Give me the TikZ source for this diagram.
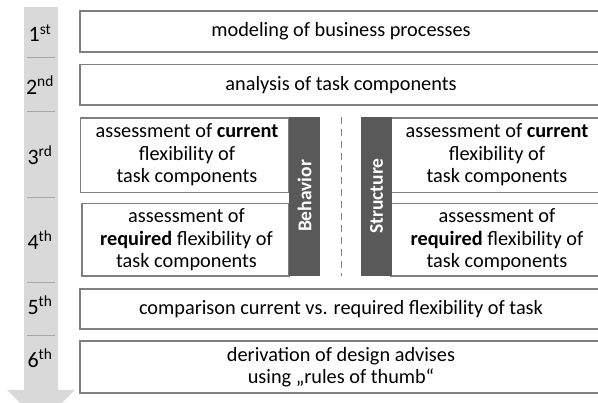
\documentclass[tikz,border=0pt]{standalone}
\usepackage{fontspec}
\setmainfont{Carlito}
\definecolor{boxline}{HTML}{7F7F7F}
\definecolor{barfill}{HTML}{595959}
\definecolor{arrowfill}{HTML}{D9D9D9}
\definecolor{sepline}{HTML}{A6A6A6}
\begin{document}
\begin{tikzpicture}[x=1pt,y=-1pt,
  every node/.style={font=\fontsize{20.3}{22.5}\selectfont, inner sep=0pt, align=center},
  stepbox/.style={draw=boxline, line width=1.3pt, fill=white, rectangle},
  bar/.style={fill=barfill, draw=none, rectangle},
  ordlabel/.style={font=\fontsize{22}{24}\selectfont},
  sep/.style={draw=sepline, line width=1pt}]
\useasboundingbox (0,0) rectangle (598,403);
\clip (0,0) rectangle (598,403);
% big arrow
\path[fill=arrowfill] (24,7) -- (58,7) -- (58,390) -- (75,390) -- (41,424) -- (7,390) -- (24,390) -- cycle;
\foreach \yy in {58,112,198,283,336} \draw[sep] (27,\yy) -- (55,\yy);
% ordinal labels
\node[ordlabel] (o1) at (40,33) {1\textsuperscript{st}};
\node[ordlabel] (o2) at (40,85) {2\textsuperscript{nd}};
\node[ordlabel] (o3) at (40,155) {3\textsuperscript{rd}};
\node[ordlabel] (o4) at (40,240) {4\textsuperscript{th}};
\node[ordlabel] (o5) at (40,305) {5\textsuperscript{th}};
\node[ordlabel] (o6) at (40,358) {6\textsuperscript{th}};
% full-width boxes
\draw[stepbox] (80,11) rectangle (602,52);
\node (b1) at (341,31.5) {modeling of business processes};
\draw[stepbox] (80,64.5) rectangle (602,105);
\node (b2) at (341,85) {analysis of task components};
\draw[stepbox] (80,289) rectangle (602,329);
\node (b5) at (341,309) {comparison current vs. required flexibility of task};
\draw[stepbox] (80,341) rectangle (602,393);
\node (b6) at (341,367) {derivation of design advises\\using „rules of thumb“};
% left column
\draw[stepbox] (80.5,118) rectangle (289,192.5);
\node (l3) at (187,155) {assessment of \textbf{current}\\flexibility of\\task components};
\draw[stepbox] (82,203.5) rectangle (289,276);
\node (l4) at (186.5,240) {assessment of\\\textbf{required} flexibility of\\task components};
% right column
\draw[stepbox] (391,118) rectangle (602,192.5);
\node (r3) at (497,155) {assessment of \textbf{current}\\flexibility of\\task components};
\draw[stepbox] (391,203.5) rectangle (602,276);
\node (r4) at (497,240) {assessment of\\\textbf{required} flexibility of\\task components};
% bars
\fill[barfill] (289,117) rectangle (319.5,276.5);
\node[text=white, rotate=90, font=\fontsize{19.5}{20}\selectfont\bfseries] (beh) at (304.5,196) {Behavior};
\fill[barfill] (361,117) rectangle (391.5,276.5);
\node[text=white, rotate=90, font=\fontsize{19.5}{20}\selectfont\bfseries] (str) at (376.5,196) {Structure};
% dashed divider
\draw[boxline, line width=1pt, dash pattern=on 7pt off 5pt] (341,117) -- (341,276);
\end{tikzpicture}
\end{document}
